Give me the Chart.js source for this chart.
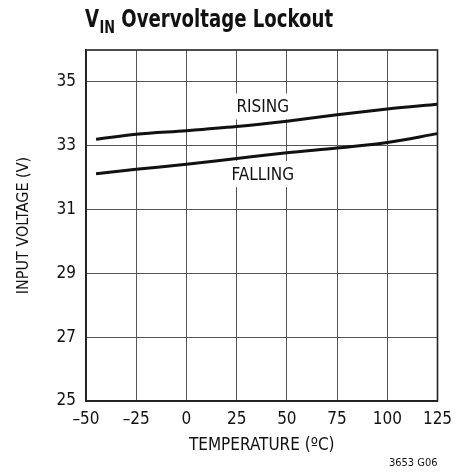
<!DOCTYPE html>
<html>
<head>
<meta charset="utf-8">
<script src="https://cdn.jsdelivr.net/npm/chart.js@4/dist/chart.umd.min.js"></script>
<style>
  html, body { margin: 0; padding: 0; background: #fff; }
  #wrap { position: relative; width: 467px; height: 473px; }
</style>
</head>
<body>
<div id="wrap"><canvas id="c" width="467" height="473"></canvas></div>
<script>
// ---- data ----
const temperatures = [-45, -25, 0, 25, 50, 75, 100, 125];
const risingVolts  = [33.20, 33.36, 33.47, 33.60, 33.77, 33.97, 34.15, 34.30];
const fallingVolts = [32.12, 32.26, 32.42, 32.60, 32.78, 32.93, 33.10, 33.38];
const xTickValues = [-50, -25, 0, 25, 50, 75, 100, 125];
const yTickValues = [25, 27, 29, 31, 33, 35];
const seriesNames = ['RISING', 'FALLING'];
const titleMain = 'V';
const titleSub = 'IN';
const titleRest = ' Overvoltage Lockout';
const xAxisTitle = 'TEMPERATURE (ºC)';
const yAxisTitle = 'INPUT VOLTAGE (V)';
const footNote = '3653 G06';

const FONT = "'DejaVu Sans Condensed', 'Liberation Sans Narrow', sans-serif";
const INK = '#111';

const decorPlugin = {
  id: 'decor',
  beforeDatasetsDraw(chart) {
    const ctx = chart.ctx;
    const xs = chart.scales.x, ys = chart.scales.y;
    ctx.save();
    ctx.font = `17px ${FONT}`;
    ctx.textAlign = 'center';
    ctx.textBaseline = 'middle';
    const labels = [
      { text: seriesNames[0], x: 38, y: 34.23 },
      { text: seriesNames[1], x: 38, y: 32.11 }
    ];
    labels.forEach(l => {
      const px = xs.getPixelForValue(l.x), py = ys.getPixelForValue(l.y);
      const w = ctx.measureText(l.text).width;
      ctx.fillStyle = '#fff';
      ctx.fillRect(px - w / 2 - 6, py - 13, w + 12, 26);
      ctx.fillStyle = INK;
      ctx.fillText(l.text, px, py + 1);
    });
    ctx.restore();
  },
  afterDraw(chart) {
    const ctx = chart.ctx;
    const a = chart.chartArea;
    ctx.save();
    // frame
    ctx.strokeStyle = '#222';
    ctx.lineWidth = 1.6;
    ctx.strokeRect(a.left, a.top, a.right - a.left, a.bottom - a.top);
    // title (condensed by horizontal scaling)
    ctx.fillStyle = INK;
    ctx.textBaseline = 'alphabetic';
    ctx.textAlign = 'left';
    const sx = 0.84;
    ctx.translate(a.left - 1, 0);
    ctx.scale(sx, 1);
    let x = 0;
    ctx.font = `bold 24px ${FONT}`;
    ctx.fillText(titleMain, x, 27);
    x += ctx.measureText(titleMain).width + 0.5;
    ctx.font = `bold 17px ${FONT}`;
    ctx.fillText(titleSub, x, 33);
    x += ctx.measureText(titleSub).width;
    ctx.font = `bold 24px ${FONT}`;
    ctx.fillText(titleRest, x, 27);
    ctx.setTransform(1, 0, 0, 1, 0, 0);
    // footnote
    ctx.font = `11px ${FONT}`;
    ctx.textAlign = 'right';
    ctx.fillText(footNote, a.right, 466);
    ctx.restore();
  }
};

new Chart(document.getElementById('c'), {
  type: 'line',
  data: {
    labels: temperatures,
    datasets: [
      { label: seriesNames[0], data: temperatures.map((t, i) => ({ x: t, y: risingVolts[i] })) },
      { label: seriesNames[1], data: temperatures.map((t, i) => ({ x: t, y: fallingVolts[i] })) }
    ]
  },
  options: {
    responsive: false,
    animation: false,
    devicePixelRatio: 1,
    layout: { padding: { top: 50, right: 29.5, left: 0, bottom: 0 } },
    elements: {
      line: { borderColor: INK, borderWidth: 3, tension: 0.4, cubicInterpolationMode: 'monotone', fill: false },
      point: { radius: 0, hoverRadius: 0 }
    },
    plugins: { legend: { display: false }, tooltip: { enabled: false }, title: { display: false } },
    scales: {
      x: {
        type: 'linear', min: -50, max: 125,
        afterBuildTicks: s => { s.ticks = xTickValues.map(v => ({ value: v })); },
        afterFit: s => { s.height = 72; },
        ticks: {
          color: INK, padding: 8, maxRotation: 0, autoSkip: false,
          font: { family: FONT, size: 17 },
          callback: v => (v < 0 ? '\u2013' + Math.abs(v) : String(v))
        },
        grid: { color: '#555', lineWidth: 1, drawTicks: false },
        border: { color: '#222', width: 1.6 },
        title: { display: true, text: xAxisTitle, color: INK, font: { family: FONT, size: 17 }, padding: { top: 17, bottom: 17 } }
      },
      y: {
        type: 'linear', min: 25, max: 36,
        afterBuildTicks: s => { s.ticks = yTickValues.map(v => ({ value: v })); },
        afterFit: s => { s.width = 86; },
        ticks: { color: INK, padding: 10, font: { family: FONT, size: 17 } },
        grid: { color: '#555', lineWidth: 1, drawTicks: false },
        border: { color: '#222', width: 1.6 },
        title: { display: true, text: yAxisTitle, color: INK, font: { family: FONT, size: 16 }, padding: { top: 14, bottom: 14 } }
      }
    }
  },
  plugins: [decorPlugin]
});
</script>
</body>
</html>
